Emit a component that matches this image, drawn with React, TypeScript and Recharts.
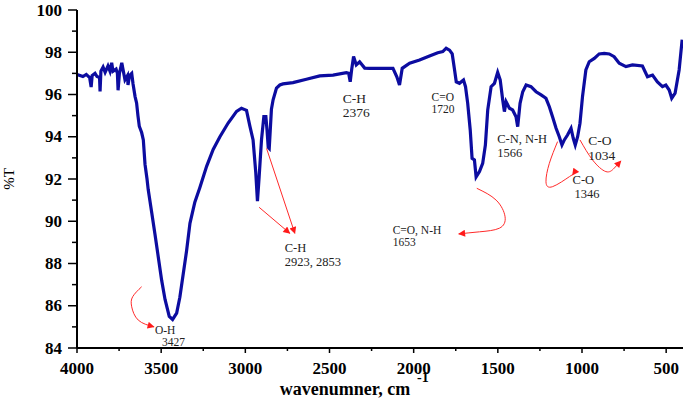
import { LineChart, Line, XAxis, YAxis, ReferenceDot } from 'recharts';

const wavenumbers = [
  4000, 3982, 3965, 3945, 3925, 3916, 3910, 3893, 3881, 3866, 3863, 3858, 3845, 3833, 3816, 3804, 3794, 3786,
  3768, 3760, 3756, 3748, 3734, 3727, 3715, 3700, 3697, 3688, 3675, 3667, 3655, 3646, 3638, 3630, 3616, 3606,
  3596, 3584, 3577, 3556, 3537, 3517, 3497, 3477, 3452, 3432, 3408, 3389, 3369, 3349, 3329, 3300, 3270, 3230,
  3191, 3151, 3102, 3052, 3023, 2993, 2973, 2954, 2938, 2928, 2918, 2904, 2890, 2878, 2871, 2864, 2858, 2845,
  2835, 2815, 2795, 2776, 2717, 2637, 2558, 2479, 2400, 2386, 2377, 2368, 2357, 2341, 2321, 2291, 2262, 2123,
  2100, 2084, 2068, 2024, 1965, 1906, 1857, 1827, 1807, 1787, 1771, 1757, 1747, 1728, 1704, 1692, 1679, 1664,
  1653, 1639, 1629, 1609, 1590, 1574, 1560, 1540, 1520, 1501, 1486, 1471, 1461, 1451, 1431, 1412, 1392, 1382,
  1368, 1352, 1332, 1303, 1273, 1243, 1214, 1194, 1175, 1154, 1135, 1119, 1105, 1086, 1065, 1052, 1040, 1026,
  1012, 997, 977, 957, 927, 898, 868, 838, 809, 779, 739, 700, 641, 611, 581, 552, 522, 502, 482, 467, 447, 423, 405,
];

const transmittance = [
  96.95, 96.9, 96.85, 96.95, 96.8, 96.35, 96.9, 97.0, 96.85, 96.8, 96.15, 97.1, 97.3, 97.05, 97.35, 97.1, 97.5, 97.1,
  97.2, 97.0, 96.2, 97.0, 97.5, 97.2, 96.7, 96.9, 96.45, 96.9, 97.0, 96.5, 95.9, 95.6, 95.0, 94.5, 94.2, 93.85,
  92.7, 92.0, 91.5, 90.4, 89.4, 88.3, 87.2, 86.3, 85.5, 85.35, 85.65, 86.4, 87.5, 88.6, 89.9, 90.9, 91.6, 92.6,
  93.4, 94.0, 94.65, 95.2, 95.35, 95.25, 94.5, 93.85, 92.3, 90.95, 92.1, 93.85, 94.95, 94.95, 94.3, 93.5, 93.45, 95.3,
  95.75, 96.3, 96.45, 96.5, 96.56, 96.72, 96.88, 96.92, 97.03, 97.0, 96.6, 97.2, 97.8, 97.4, 97.55, 97.25, 97.24, 97.24,
  96.84, 96.45, 97.24, 97.48, 97.63, 97.82, 97.98, 98.03, 98.19, 98.1, 97.92, 97.16, 96.6, 96.53, 96.69, 96.37, 95.58, 94.32,
  92.98, 92.9, 92.1, 92.35, 92.74, 93.61, 95.27, 96.37, 96.53, 97.05, 96.69, 95.74, 95.19, 95.66, 95.35, 95.27, 94.95, 94.48,
  95.58, 96.13, 96.45, 96.37, 96.13, 95.98, 95.82, 95.42, 94.95, 94.4, 94.0, 93.61, 93.85, 94.08, 94.4, 93.93, 93.61, 94.0,
  94.64, 95.9, 97.16, 97.55, 97.71, 97.92, 97.95, 97.92, 97.79, 97.48, 97.32, 97.4, 97.35, 96.84, 96.92, 96.6, 96.37, 96.45, 96.21, 95.82, 96.06, 97.16, 98.6,
];

const xTicks = [4000, 3750, 3500, 3250, 3000, 2750, 2500, 2250, 2000, 1750, 1500, 1250, 1000, 750, 500];
const yTicks = [84, 85, 86, 87, 88, 89, 90, 91, 92, 93, 94, 95, 96, 97, 98, 99, 100];

// arrow paths, in wavenumber / %T
const arrowOH = [
  { x: 3616, y: 86.9 }, { x: 3669, y: 86.43 }, { x: 3675, y: 85.95 }, { x: 3636, y: 85.32 }, { x: 3543, y: 85.0 },
];
const arrowCH1 = [{ x: 2918, y: 90.66 }, { x: 2736, y: 89.43 }];
const arrowCH2 = [{ x: 2874, y: 93.45 }, { x: 2706, y: 89.43 }];
const arrowCONH = [
  { x: 1625, y: 91.56 }, { x: 1510, y: 91.0 }, { x: 1457, y: 90.21 }, { x: 1491, y: 89.67 }, { x: 1609, y: 89.5 }, { x: 1732, y: 89.4 },
];
const arrowCO1346 = [
  { x: 1145, y: 93.77 }, { x: 1194, y: 92.74 }, { x: 1214, y: 91.87 }, { x: 1174, y: 91.64 }, { x: 1075, y: 92.11 }, { x: 1056, y: 92.19 },
];
const arrowCO1034 = [
  { x: 1012, y: 93.85 }, { x: 937, y: 92.9 }, { x: 858, y: 92.35 }, { x: 809, y: 92.51 }, { x: 769, y: 92.85 },
];

const notes = [
  { x: 3537, y: 84.66, lines: ['O-H', '3427'], size: 11.5, indent: 7 },
  { x: 2766, y: 88.54, lines: ['C-H', '2923, 2853'], size: 12.5, indent: 0 },
  { x: 2422, y: 95.62, lines: ['C-H', '2376'], size: 13.5, indent: 0 },
  { x: 1894, y: 95.69, lines: ['C=O', '1720'], size: 11.5, indent: 0 },
  { x: 1504, y: 93.7, lines: ['C-N, N-H', '1566'], size: 12.5, indent: 0 },
  { x: 963, y: 93.59, lines: ['C-O', '1034'], size: 13.5, indent: 0 },
  { x: 1056, y: 91.76, lines: ['C-O', '1346'], size: 12.5, indent: 2 },
  { x: 2125, y: 89.4, lines: ['C=O, N-H', '1653'], size: 11.5, indent: 0 },
];

const spectrum = wavenumbers.map((x, i) => ({ x, y: transmittance[i] }));
const arrows = [
  { data: arrowOH, type: 'natural' },
  { data: arrowCH1, type: 'linear' },
  { data: arrowCH2, type: 'linear' },
  { data: arrowCONH, type: 'natural' },
  { data: arrowCO1346, type: 'natural' },
  { data: arrowCO1034, type: 'natural' },
];

const FONT = '"Liberation Serif", "Times New Roman", serif';

const XTick = ({ x, y, payload }: any) => {
  const major = payload.value % 500 === 0;
  return (
    <g>
      <line x1={x} x2={x} y1={y} y2={y + (major ? 5 : 3)} stroke="#000" strokeWidth={1.5} />
      {major && (
        <text x={x} y={y + 26} textAnchor="middle" fontFamily={FONT} fontWeight="bold" fontSize={17} fill="#000">
          {payload.value}
        </text>
      )}
    </g>
  );
};

const YTick = ({ x, y, payload }: any) => {
  const major = payload.value % 2 === 0;
  return (
    <g>
      <line x1={x - (major ? 9 : 5)} x2={x} y1={y} y2={y} stroke="#000" strokeWidth={1.5} />
      {major && (
        <text x={x - 15} y={y + 5.5} textAnchor="end" fontFamily={FONT} fontWeight="bold" fontSize={17} fill="#000">
          {payload.value}
        </text>
      )}
    </g>
  );
};

const noteShape = (n: typeof notes[number]) => (p: any) => (
  <text x={p.cx} y={p.cy} fontFamily={FONT} fontSize={n.size} fill="#222">
    <tspan x={p.cx}>{n.lines[0]}</tspan>
    <tspan x={p.cx + n.indent} dy={n.size * 1.08}>{n.lines[1]}</tspan>
  </text>
);

export default function App() {
  return (
    <div style={{ position: 'absolute', left: 0, top: 0, background: '#fff' }}>
      <LineChart width={685} height={408} data={spectrum} margin={{ top: 10, right: 2, left: 0, bottom: 0 }}>
        <defs>
          <marker id="head" viewBox="0 0 10 10" refX="9" refY="5" markerWidth="9" markerHeight="7"
            markerUnits="userSpaceOnUse" orient="auto">
            <path d="M0,0 L10,5 L0,10 z" fill="#ff1a1a" />
          </marker>
        </defs>
        <XAxis
          dataKey="x"
          type="number"
          reversed
          domain={[400, 4000]}
          ticks={xTicks}
          interval={0}
          tickSize={0}
          tickMargin={0}
          tickLine={false}
          tick={XTick}
          height={60}
          axisLine={{ stroke: '#000', strokeWidth: 2 }}
          allowDataOverflow
          label={({ viewBox }: any) => (
            <g>
              <text x={viewBox.x + viewBox.width / 2 - 35} y={viewBox.y + 47} textAnchor="middle"
                fontFamily={FONT} fontWeight="bold" fontSize={18} fill="#000">
                wavenumner, cm
              </text>
              <text x={viewBox.x + viewBox.width / 2 + 37} y={viewBox.y + 34} textAnchor="start"
                fontFamily={FONT} fontWeight="bold" fontSize={14} fill="#000">
                -1
              </text>
            </g>
          )}
        />
        <XAxis xAxisId="top" orientation="top" type="number" dataKey="x" reversed domain={[400, 4000]}
          height={0} tick={false} tickLine={false} axisLine={{ stroke: '#aaa', strokeWidth: 1 }} />
        <YAxis
          type="number"
          domain={[84, 100]}
          ticks={yTicks}
          interval={0}
          tickSize={0}
          tickMargin={0}
          tickLine={false}
          tick={YTick}
          width={77}
          axisLine={{ stroke: '#000', strokeWidth: 2 }}
          allowDataOverflow
          label={({ viewBox }: any) => (
            <text x={14} y={viewBox.y + viewBox.height / 2} textAnchor="middle" fontFamily={FONT} fontSize={15}
              fill="#000" transform={`rotate(-90, 14, ${viewBox.y + viewBox.height / 2})`}>
              %T
            </text>
          )}
        />
        <YAxis yAxisId="right" orientation="right" type="number" domain={[84, 100]} width={0}
          tick={false} tickLine={false} axisLine={{ stroke: '#aaa', strokeWidth: 1 }} />
        <Line dataKey="y" type="linear" stroke="#0c0ca0" strokeWidth={3.2} dot={false} activeDot={false}
          isAnimationActive={false} />
        {arrows.map((a, i) => (
          <Line key={i} data={a.data} dataKey="y" type={a.type as any} stroke="#ff2a2a" strokeWidth={1}
            dot={false} activeDot={false} isAnimationActive={false} markerEnd="url(#head)" />
        ))}
        {notes.map((n, i) => (
          <ReferenceDot key={i} x={n.x} y={n.y} r={0} shape={noteShape(n)} />
        ))}
      </LineChart>
    </div>
  );
}
